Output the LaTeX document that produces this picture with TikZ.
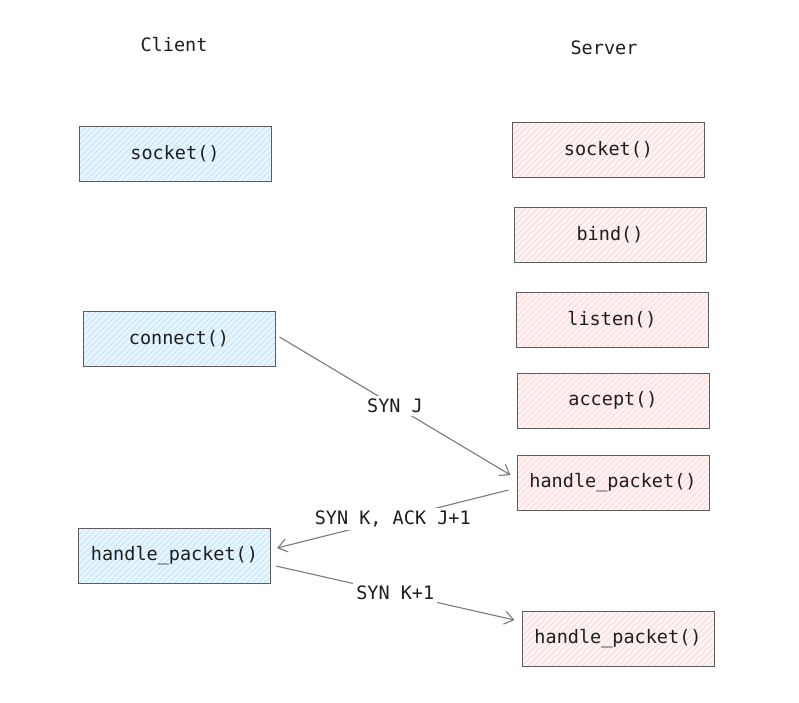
\documentclass[tikz,border=0pt]{standalone}
\usepackage{fontspec}
\setmonofont{DejaVu Sans Mono}
\usetikzlibrary{arrows.meta}
\definecolor{edgegray}{HTML}{5C5C5C}
\definecolor{arrowgray}{HTML}{7A7A7A}
\definecolor{clientfill}{HTML}{E7F5FF}
\definecolor{clienthatch}{HTML}{B5DCFA}
\definecolor{serverfill}{HTML}{FFF2F2}
\definecolor{serverhatch}{HTML}{FBCFCF}
\definecolor{inkgray}{HTML}{1E1E1E}
\tikzset{
  call/.style={draw=edgegray, line width=1pt, minimum width=192pt, minimum height=55pt,
    font=\ttfamily\fontsize{18.5}{21}\selectfont, text=inkgray, anchor=center},
  hatched/.style={path picture={
    \foreach \i in {-66,-60,...,198}
      \draw[#1, line width=0.6pt] ([xshift=\i pt]path picture bounding box.south west) -- ++(66,-66);}},
  clientbox/.style={call, fill=clientfill, hatched=clienthatch},
  serverbox/.style={call, fill=serverfill, hatched=serverhatch},
  heading/.style={font=\ttfamily\fontsize{18.5}{21}\selectfont, text=inkgray},
  msg/.style={draw=arrowgray, line width=1.1pt, -{Straight Barb[length=9pt,width=13pt,line width=1.1pt]}},
  msglabel/.style={fill=white, inner sep=3pt, font=\ttfamily\fontsize{18.5}{21}\selectfont, text=inkgray}
}
\begin{document}
\begin{tikzpicture}[x=1pt,y=-1pt]
\useasboundingbox (0,0) rectangle (799,702);
% column headings
\node[heading] (client) at (174,45) {Client};
\node[heading] (server) at (604,48) {Server};
% client side calls
\node[clientbox] (csocket) at (175,154) {socket()};
\node[clientbox] (cconnect) at (179,339) {connect()};
\node[clientbox] (chandle) at (174.5,555.5) {handle\_packet()};
% server side calls
\node[serverbox] (ssocket) at (608.5,150) {socket()};
\node[serverbox] (sbind) at (610,234.5) {bind()};
\node[serverbox] (slisten) at (612,319.5) {listen()};
\node[serverbox] (saccept) at (613,400.5) {accept()};
\node[serverbox] (shandle) at (613,482.5) {handle\_packet()};
\node[serverbox] (shandlelast) at (618,638.5) {handle\_packet()};
% three-way handshake
\draw[msg] ([shift={(4,-2)}]cconnect.east) -- node[msglabel] {SYN J} ([shift={(-6,-7.5)}]shandle.west);
\draw[msg] ([shift={(-8,7.5)}]shandle.west) -- node[msglabel] {SYN K, ACK J+1} ([shift={(6,-7.5)}]chandle.east);
\draw[msg] ([shift={(5,10.5)}]chandle.east) -- node[msglabel] {SYN K+1} ([shift={(-7,-18.5)}]shandlelast.west);
\end{tikzpicture}
\end{document}
